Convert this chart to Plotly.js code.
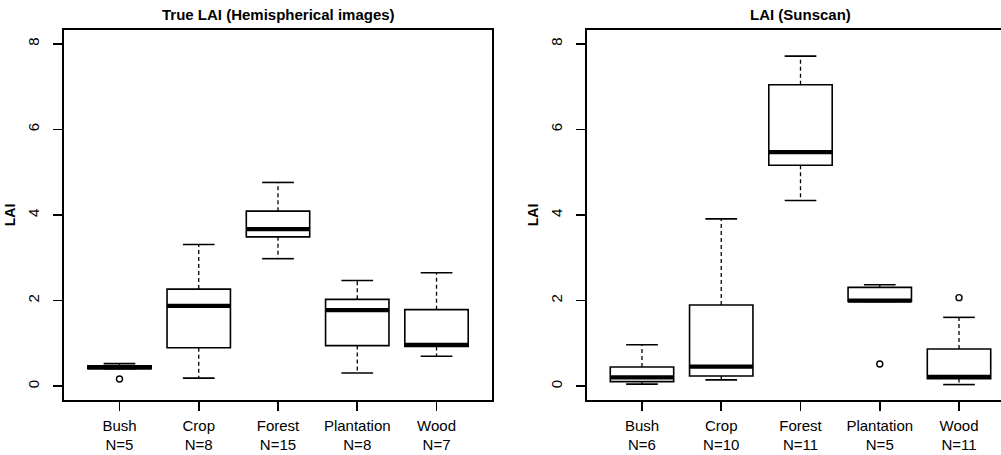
<!DOCTYPE html>
<html>
<head>
<meta charset="utf-8">
<script src="https://cdn.plot.ly/plotly-3.0.1.min.js"></script>
<style>
html, body { margin: 0; padding: 0; overflow: hidden; background: #fff; }
#chart { width: 1030px; height: 455px; }
</style>
</head>
<body>
<div id="chart"></div>
<script>
// ---- Data ----
const categories = ['Bush', 'Crop', 'Forest', 'Plantation', 'Wood'];

// Panel 1: True LAI (Hemispherical images)
const trueN      = [5, 8, 15, 8, 7];
const trueLower  = [0.41, 0.19, 2.98, 0.31, 0.70];
const trueQ1     = [0.41, 0.90, 3.49, 0.95, 0.93];
const trueMedian = [0.44, 1.88, 3.67, 1.78, 0.97];
const trueQ3     = [0.48, 2.27, 4.09, 2.03, 1.79];
const trueUpper  = [0.53, 3.31, 4.76, 2.47, 2.65];
const trueOutCat = ['Bush'];
const trueOutVal = [0.17];

// Panel 2: LAI (Sunscan)
const sunN      = [6, 10, 11, 5, 11];
const sunLower  = [0.05, 0.15, 4.34, 1.98, 0.04];
const sunQ1     = [0.11, 0.24, 5.16, 1.98, 0.18];
const sunMedian = [0.21, 0.46, 5.47, 2.00, 0.22];
const sunQ3     = [0.45, 1.90, 7.04, 2.31, 0.87];
const sunUpper  = [0.97, 3.91, 7.71, 2.37, 1.61];
const sunOutCat = ['Plantation', 'Wood'];
const sunOutVal = [0.52, 2.07];

const yTicks = [0, 2, 4, 6, 8];

// ---- Build ----
const BOXW = 0.8, CAPW = 0.4;
const FONT = 'Liberation Sans, Arial, Helvetica, sans-serif';
const LW = 1.6;

function panel(xa, ya, lower, q1, med, q3, upper, outCat, outVal) {
  const pos = categories.map((c, i) => i + 1);
  const traces = [];
  traces.push({
    type: 'box', xaxis: xa, yaxis: ya, x: pos,
    q1: q1, median: med, q3: q3, lowerfence: q1, upperfence: q3,
    width: BOXW, whiskerwidth: 0, boxpoints: false,
    fillcolor: 'rgba(255,255,255,0)',
    line: { color: '#000', width: LW }, showlegend: false, hoverinfo: 'skip'
  });
  // whiskers (dashed)
  const wx = [], wy = [];
  pos.forEach((p, i) => {
    wx.push(p, p, null, p, p, null);
    wy.push(q3[i], upper[i], null, q1[i], lower[i], null);
  });
  traces.push({ type: 'scatter', mode: 'lines', xaxis: xa, yaxis: ya, x: wx, y: wy,
    line: { color: '#000', width: 1.3, dash: '4px,3px' }, showlegend: false, hoverinfo: 'skip' });
  // staples
  const sx = [], sy = [];
  pos.forEach((p, i) => {
    sx.push(p - CAPW / 2, p + CAPW / 2, null, p - CAPW / 2, p + CAPW / 2, null);
    sy.push(upper[i], upper[i], null, lower[i], lower[i], null);
  });
  traces.push({ type: 'scatter', mode: 'lines', xaxis: xa, yaxis: ya, x: sx, y: sy,
    line: { color: '#000', width: LW }, showlegend: false, hoverinfo: 'skip' });
  // medians (thick)
  const mx = [], my = [];
  pos.forEach((p, i) => {
    mx.push(p - BOXW / 2, p + BOXW / 2, null);
    my.push(med[i], med[i], null);
  });
  traces.push({ type: 'scatter', mode: 'lines', xaxis: xa, yaxis: ya, x: mx, y: my,
    line: { color: '#000', width: 4.2 }, showlegend: false, hoverinfo: 'skip' });
  // outliers
  traces.push({ type: 'scatter', mode: 'markers', xaxis: xa, yaxis: ya,
    x: outCat.map(c => categories.indexOf(c) + 1), y: outVal,
    marker: { symbol: 'circle-open', size: 6, color: '#000', line: { width: 1.4, color: '#000' } },
    showlegend: false, hoverinfo: 'skip' });
  return traces;
}

const traces = [].concat(
  panel('x', 'y', trueLower, trueQ1, trueMedian, trueQ3, trueUpper, trueOutCat, trueOutVal),
  panel('x2', 'y2', sunLower, sunQ1, sunMedian, sunQ3, sunUpper, sunOutCat, sunOutVal)
);

const W = 1030, H = 455;
function xAxis(domain, ns) {
  return {
    domain: domain, type: 'linear', range: [0.3, 5.7],
    tickvals: categories.map((c, i) => i + 1),
    ticktext: categories.map((c, i) => c + '<br>N=' + ns[i]),
    showgrid: false, zeroline: false, showline: true, mirror: true,
    linecolor: '#000', linewidth: LW, ticks: 'outside', ticklen: 9, tickwidth: LW, tickcolor: '#000',
    tickfont: { family: FONT, size: 15, color: '#000' }, ticklabelstandoff: 2
  };
}
function yAxis(domain, anchor) {
  return {
    domain: domain, anchor: anchor, range: [-0.32, 8.32],
    tickvals: yTicks, ticktext: yTicks.map(String), tickangle: -90,
    showgrid: false, zeroline: false, showline: true, mirror: true,
    linecolor: '#000', linewidth: LW, ticks: 'outside', ticklen: 9, tickwidth: LW, tickcolor: '#000',
    tickfont: { family: FONT, size: 15, color: '#000' }, ticklabelstandoff: 8,
    title: { text: 'LAI', font: { family: FONT, size: 14, color: '#000', weight: 'bold' }, standoff: 6 }
  };
}
const yDom = [55 / H, 425 / H];
const layout = {
  width: W, height: H,
  margin: { l: 0, r: 0, t: 0, b: 0 },
  paper_bgcolor: '#fff', plot_bgcolor: '#fff',
  showlegend: false,
  xaxis: Object.assign(xAxis([64 / W, 492 / W], trueN), { anchor: 'y' }),
  yaxis: yAxis(yDom, 'x'),
  xaxis2: Object.assign(xAxis([586.5 / W, 1014.5 / W], sunN), { anchor: 'y2' }),
  yaxis2: yAxis(yDom, 'x2'),
  annotations: [
    { text: 'True LAI (Hemispherical images)', xref: 'x domain', x: 0.5, yref: 'paper', y: (H - 15) / H,
      xanchor: 'center', yanchor: 'middle', showarrow: false,
      font: { family: FONT, size: 15, color: '#000', weight: 'bold' } },
    { text: 'LAI (Sunscan)', xref: 'x2 domain', x: 0.5, yref: 'paper', y: (H - 15) / H,
      xanchor: 'center', yanchor: 'middle', showarrow: false,
      font: { family: FONT, size: 15, color: '#000', weight: 'bold' } }
  ]
};

Plotly.newPlot('chart', traces, layout, { staticPlot: true, displayModeBar: false });
</script>
</body>
</html>
